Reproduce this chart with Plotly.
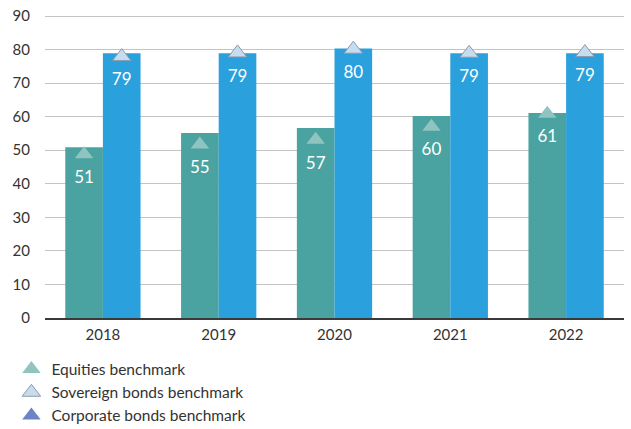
import plotly.graph_objects as go

years = ["2018", "2019", "2020", "2021", "2022"]
equities = [50.9, 55.1, 56.6, 60.2, 61.1]
sovereign = [78.9, 78.9, 80.3, 78.9, 78.9]
equities_benchmark = [48.8, 51.7, 53.1, 57.0, 60.9]
sovereign_benchmark = [77.9, 79.0, 80.1, 78.9, 79.1]
corporate_benchmark = [None, None, None, None, None]
y_ticks = [0, 10, 20, 30, 40, 50, 60, 70, 80, 90]

FONT = "Lato"
EQ_BAR = "#4aa3a0"
SOV_BAR = "#2aa0dc"
EQ_MARK = "#8fc4c0"
SOV_MARK = "#c6dcef"
CORP_MARK = "#6a84c6"

fig = go.Figure()

fig.add_trace(go.Bar(x=years, y=equities, marker=dict(color=EQ_BAR, line=dict(width=0)),
                     offsetgroup="eq", showlegend=False, hoverinfo="skip"))
fig.add_trace(go.Bar(x=years, y=sovereign, marker=dict(color=SOV_BAR, line=dict(width=0)),
                     offsetgroup="sov", showlegend=False, hoverinfo="skip"))

# benchmark markers (legend entries)
fig.add_trace(go.Scatter(x=years, y=equities_benchmark, mode="markers", name="Equities benchmark",
                         offsetgroup="eq",
                         marker=dict(symbol="triangle-up", size=16, color=EQ_MARK,
                                     line=dict(width=0))))
fig.add_trace(go.Scatter(x=years, y=sovereign_benchmark, mode="markers", name="Sovereign bonds benchmark",
                         offsetgroup="sov",
                         marker=dict(symbol="triangle-up", size=16, color=SOV_MARK,
                                     line=dict(width=1, color="#8d9aab"))))
fig.add_trace(go.Scatter(x=years, y=corporate_benchmark, mode="markers", name="Corporate bonds benchmark",
                         offsetgroup="sov",
                         marker=dict(symbol="triangle-up", size=16, color=CORP_MARK,
                                     line=dict(width=0))))

# value labels beneath the benchmark markers
fig.add_trace(go.Scatter(x=years, y=equities_benchmark, mode="markers+text", offsetgroup="eq",
                         text=[f"{v:.0f}" for v in equities], textposition="bottom center",
                         textfont=dict(family=FONT, size=17, color="white"),
                         marker=dict(size=24, color="rgba(0,0,0,0)"), showlegend=False,
                         hoverinfo="skip"))
fig.add_trace(go.Scatter(x=years, y=sovereign_benchmark, mode="markers+text", offsetgroup="sov",
                         text=[f"{v:.0f}" for v in sovereign], textposition="bottom center",
                         textfont=dict(family=FONT, size=17, color="white"),
                         marker=dict(size=24, color="rgba(0,0,0,0)"), showlegend=False,
                         hoverinfo="skip"))

fig.update_layout(
    width=631, height=429,
    margin=dict(l=45, r=7, t=15, b=111, autoexpand=False),
    paper_bgcolor="white", plot_bgcolor="white",
    barmode="group", bargap=0.35, bargroupgap=0,
    scattermode="group", scattergap=0.35,
    font=dict(family=FONT, size=15, color="#333333"),
    legend=dict(x=-0.058, xanchor="left", y=-0.114, yanchor="top",
                orientation="v", font=dict(family=FONT, size=15.5, color="#333333"),
                bgcolor="rgba(0,0,0,0)", itemclick=False),
    xaxis=dict(type="category", showgrid=False, showline=True, linecolor="#3a3a3a",
               linewidth=1.5, ticks="", ticklabelstandoff=2,
               tickfont=dict(family=FONT, size=15, color="#333333")),
    yaxis=dict(range=[0, 90.3], tickvals=y_ticks, showgrid=True, gridcolor="#c4c4c4",
               gridwidth=1, zeroline=False, ticks="", ticklabelstandoff=14,
               ticklabeloverflow="allow",
               tickfont=dict(family=FONT, size=15, color="#333333")),
)

# remove the browser's default 8px body margin so the figure sits at the page origin
fig.write_html("out.html", config={"displayModeBar": False},
               post_script="document.body.style.margin='0';")
